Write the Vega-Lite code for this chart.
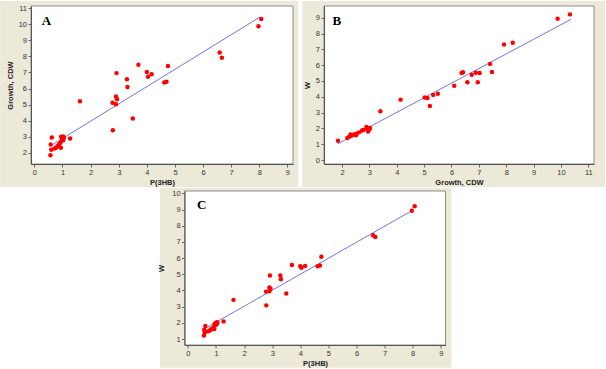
{
  "$schema": "https://vega.github.io/schema/vega-lite/v6.json",
  "padding": 0,
  "background": "white",
  "datasets": {
    "pts": [
      {"p": 8.07, "cdw": 10.33, "w": 9.21},
      {"p": 7.97, "cdw": 9.88, "w": 8.93},
      {"p": 6.59, "cdw": 8.24, "w": 7.42},
      {"p": 6.67, "cdw": 7.92, "w": 7.30},
      {"p": 3.70, "cdw": 7.48, "w": 5.57},
      {"p": 4.75, "cdw": 7.41, "w": 6.08},
      {"p": 4.00, "cdw": 7.03, "w": 5.50},
      {"p": 2.92, "cdw": 6.96, "w": 4.92},
      {"p": 4.17, "cdw": 6.89, "w": 5.52},
      {"p": 4.04, "cdw": 6.74, "w": 5.40},
      {"p": 3.29, "cdw": 6.58, "w": 4.92},
      {"p": 3.31, "cdw": 6.10, "w": 4.70},
      {"p": 4.70, "cdw": 6.42, "w": 5.55},
      {"p": 4.62, "cdw": 6.37, "w": 5.50},
      {"p": 1.62, "cdw": 5.21, "w": 3.42},
      {"p": 2.90, "cdw": 5.50, "w": 4.19},
      {"p": 2.94, "cdw": 5.33, "w": 4.12},
      {"p": 2.78, "cdw": 5.12, "w": 3.93},
      {"p": 2.90, "cdw": 5.02, "w": 3.95},
      {"p": 3.50, "cdw": 4.14, "w": 3.82},
      {"p": 2.79, "cdw": 3.40, "w": 3.08},
      {"p": 1.27, "cdw": 2.89, "w": 2.09},
      {"p": 0.62, "cdw": 2.95, "w": 1.80},
      {"p": 0.58, "cdw": 2.51, "w": 1.57},
      {"p": 0.57, "cdw": 1.85, "w": 1.22},
      {"p": 0.60, "cdw": 2.19, "w": 1.40},
      {"p": 0.72, "cdw": 2.26, "w": 1.48},
      {"p": 0.78, "cdw": 2.33, "w": 1.53},
      {"p": 0.82, "cdw": 2.40, "w": 1.60},
      {"p": 0.86, "cdw": 2.46, "w": 1.62},
      {"p": 0.88, "cdw": 2.53, "w": 1.66},
      {"p": 0.92, "cdw": 2.62, "w": 1.75},
      {"p": 0.94, "cdw": 2.31, "w": 1.62},
      {"p": 0.97, "cdw": 2.73, "w": 1.87},
      {"p": 0.98, "cdw": 2.93, "w": 1.98},
      {"p": 1.03, "cdw": 3.02, "w": 2.03},
      {"p": 0.95, "cdw": 3.00, "w": 1.93},
      {"p": 1.05, "cdw": 2.93, "w": 2.00},
      {"p": 1.02, "cdw": 2.78, "w": 1.90}
    ],
    "lineA": [{"p": 0.62, "cdw": 2.48}, {"p": 8.03, "cdw": 10.46}],
    "lineB": [{"cdw": 1.85, "w": 1.03}, {"cdw": 10.37, "w": 8.90}],
    "lineC": [{"p": 0.62, "w": 1.66}, {"p": 7.99, "w": 8.95}],
    "one": [{}]
  },
  "config": {
    "view": {"stroke": null},
    "axis": {
      "grid": false,
      "tickCount": 10,
      "domainColor": "#555555",
      "tickColor": "#666666",
      "tickSize": 3,
      "labelFont": "Liberation Sans",
      "labelFontSize": 7.5,
      "labelColor": "#333333",
      "labelPadding": 1.5,
      "labelFlush": false,
      "labelOverlap": false,
      "titleFont": "Liberation Sans",
      "titleFontSize": 7.5,
      "titleFontWeight": "bold",
      "titleColor": "#222222"
    }
  },
  "vconcat": [
    {
      "hconcat": [
        {
          "width": 262,
          "height": 158,
          "layer": [
            {
              "data": {"name": "one"},
              "mark": {"type": "rect", "fill": "#ece9d8"},
              "encoding": {
                "x": {"datum": -1.22, "type": "quantitative"},
                "x2": {"datum": 9.38},
                "y": {"datum": -0.13, "type": "quantitative"},
                "y2": {"datum": 11.45}
              }
            },
            {
              "data": {"name": "one"},
              "mark": {"type": "rect", "fill": "white", "stroke": "#8c8c8c", "strokeWidth": 1},
              "encoding": {
                "x": {"datum": -0.12, "type": "quantitative"},
                "x2": {"datum": 9.2},
                "y": {"datum": 1.3, "type": "quantitative"},
                "y2": {"datum": 11.14}
              }
            },
            {
              "data": {"name": "lineA"},
              "mark": {"type": "line", "color": "#7272f2", "strokeWidth": 1},
              "encoding": {
                "x": {"field": "p", "type": "quantitative"},
                "y": {"field": "cdw", "type": "quantitative"}
              }
            },
            {
              "data": {"name": "pts"},
              "mark": {"type": "circle", "color": "#ff0000", "opacity": 1, "size": 20},
              "encoding": {
                "x": {
                  "field": "p", "type": "quantitative",
                  "scale": {"domain": [-0.12, 9.2], "nice": false, "zero": false},
                  "axis": {"title": "P(3HB)", "zindex": 2, "values": [0, 1, 2, 3, 4, 5, 6, 7, 8, 9], "titlePadding": 2}
                },
                "y": {
                  "field": "cdw", "type": "quantitative",
                  "scale": {"domain": [1.3, 11.14], "nice": false, "zero": false},
                  "axis": {"title": "Growth, CDW", "zindex": 2, "values": [2, 3, 4, 5, 6, 7, 8, 9, 10, 11], "titlePadding": 4}
                }
              }
            },
            {
              "data": {"name": "one"},
              "mark": {"type": "text", "text": "A", "font": "Liberation Serif", "fontWeight": "bold", "fontSize": 13, "align": "left", "baseline": "alphabetic", "color": "black"},
              "encoding": {
                "x": {"datum": 0.26, "type": "quantitative"},
                "y": {"datum": 9.96, "type": "quantitative"}
              }
            }
          ]
        },
        {
          "width": 270,
          "height": 158,
          "layer": [
            {
              "data": {"name": "one"},
              "mark": {"type": "rect", "fill": "#ece9d8"},
              "encoding": {
                "x": {"datum": 0.55, "type": "quantitative"},
                "x2": {"datum": 11.61},
                "y": {"datum": -1.7, "type": "quantitative"},
                "y2": {"datum": 10.06}
              }
            },
            {
              "data": {"name": "one"},
              "mark": {"type": "rect", "fill": "white", "stroke": "#8c8c8c", "strokeWidth": 1},
              "encoding": {
                "x": {"datum": 1.34, "type": "quantitative"},
                "x2": {"datum": 11.21},
                "y": {"datum": -0.25, "type": "quantitative"},
                "y2": {"datum": 9.74}
              }
            },
            {
              "data": {"name": "lineB"},
              "mark": {"type": "line", "color": "#7272f2", "strokeWidth": 1},
              "encoding": {
                "x": {"field": "cdw", "type": "quantitative"},
                "y": {"field": "w", "type": "quantitative"}
              }
            },
            {
              "data": {"name": "pts"},
              "mark": {"type": "circle", "color": "#ff0000", "opacity": 1, "size": 20},
              "encoding": {
                "x": {
                  "field": "cdw", "type": "quantitative",
                  "scale": {"domain": [1.34, 11.21], "nice": false, "zero": false},
                  "axis": {"title": "Growth, CDW", "zindex": 2, "values": [2, 3, 4, 5, 6, 7, 8, 9, 10, 11], "titlePadding": 2}
                },
                "y": {
                  "field": "w", "type": "quantitative",
                  "scale": {"domain": [-0.25, 9.74], "nice": false, "zero": false},
                  "axis": {"title": "W", "zindex": 2, "values": [0, 1, 2, 3, 4, 5, 6, 7, 8, 9], "titlePadding": 4}
                }
              }
            },
            {
              "data": {"name": "one"},
              "mark": {"type": "text", "text": "B", "font": "Liberation Serif", "fontWeight": "bold", "fontSize": 13, "align": "left", "baseline": "alphabetic", "color": "black"},
              "encoding": {
                "x": {"datum": 1.65, "type": "quantitative"},
                "y": {"datum": 8.54, "type": "quantitative"}
              }
            }
          ]
        }
      ],
      "spacing": 3
    },
    {
      "width": 261,
      "height": 154,
      "layer": [
        {
          "data": {"name": "one"},
          "mark": {"type": "rect", "fill": "#ece9d8"},
          "encoding": {
            "x": {"datum": -0.997, "type": "quantitative"},
            "x2": {"datum": 9.38},
            "y": {"datum": -0.77, "type": "quantitative"},
            "y2": {"datum": 10.35}
          }
        },
        {
          "data": {"name": "one"},
          "mark": {"type": "rect", "fill": "white", "stroke": "#8c8c8c", "strokeWidth": 1},
          "encoding": {
            "x": {"datum": -0.12, "type": "quantitative"},
            "x2": {"datum": 9.17},
            "y": {"datum": 0.63, "type": "quantitative"},
            "y2": {"datum": 10.15}
          }
        },
        {
          "data": {"name": "lineC"},
          "mark": {"type": "line", "color": "#7272f2", "strokeWidth": 1},
          "encoding": {
            "x": {"field": "p", "type": "quantitative"},
            "y": {"field": "w", "type": "quantitative"}
          }
        },
        {
          "data": {"name": "pts"},
          "mark": {"type": "circle", "color": "#ff0000", "opacity": 1, "size": 20},
          "encoding": {
            "x": {
              "field": "p", "type": "quantitative",
              "scale": {"domain": [-0.12, 9.17], "nice": false, "zero": false},
              "axis": {"title": "P(3HB)", "zindex": 2, "values": [0, 1, 2, 3, 4, 5, 6, 7, 8, 9], "titlePadding": 2}
            },
            "y": {
              "field": "w", "type": "quantitative",
              "scale": {"domain": [0.63, 10.15], "nice": false, "zero": false},
              "axis": {"title": "W", "zindex": 2, "values": [1, 2, 3, 4, 5, 6, 7, 8, 9, 10], "titlePadding": 6}
            }
          }
        },
        {
          "data": {"name": "one"},
          "mark": {"type": "text", "text": "C", "font": "Liberation Serif", "fontWeight": "bold", "fontSize": 13, "align": "left", "baseline": "alphabetic", "color": "black"},
          "encoding": {
            "x": {"datum": 0.32, "type": "quantitative"},
            "y": {"datum": 9.04, "type": "quantitative"}
          }
        }
      ]
    }
  ],
  "spacing": 0,
  "center": true
}
